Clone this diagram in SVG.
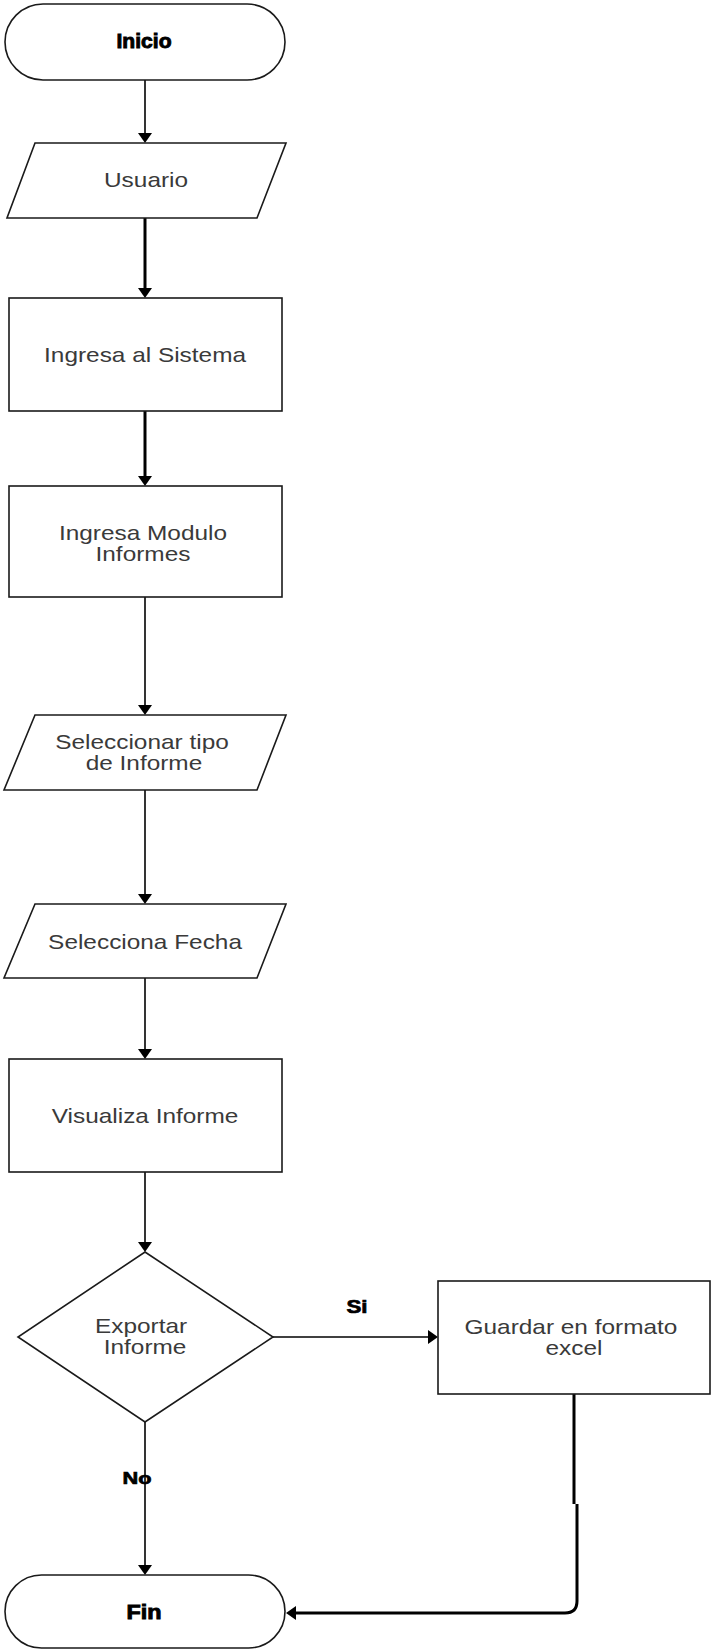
<svg xmlns="http://www.w3.org/2000/svg" width="711" height="1650" viewBox="0 0 711 1650">
  <style>
    .shape { fill: #ffffff; stroke: #1a1a1a; stroke-width: 1.6; }
    .edge { fill: none; stroke: #000000; stroke-width: 1.6; }
    .edge.heavy { stroke-width: 3; }
    .label { font-family: "Liberation Sans", Arial, sans-serif; font-size: 20px; fill: #3a3a3a; text-anchor: middle; }
    .title { font-family: "Liberation Sans", Arial, sans-serif; font-size: 20px; font-weight: bold; fill: #000; stroke: #000; stroke-width: 0.9; text-anchor: middle; }
    .tag { font-family: "Liberation Sans", Arial, sans-serif; font-weight: bold; fill: #000; stroke: #000; stroke-width: 0.7; text-anchor: middle; }
  </style>
  <defs>
    <marker id="arrow" markerUnits="userSpaceOnUse" markerWidth="11" markerHeight="14" refX="0" refY="7" orient="auto">
      <path d="M0,0 L10,7 L0,14 Z" fill="#000"/>
    </marker>
  </defs>

  <rect width="711" height="1650" fill="#ffffff"/>

  <!-- connectors -->
  <g id="connectors">
    <line class="edge" x1="145" y1="80" x2="145" y2="133" marker-end="url(#arrow)"/>
    <line class="edge heavy" x1="145" y1="218" x2="145" y2="288" marker-end="url(#arrow)"/>
    <line class="edge heavy" x1="145" y1="411" x2="145" y2="476" marker-end="url(#arrow)"/>
    <line class="edge" x1="145" y1="597" x2="145" y2="705" marker-end="url(#arrow)"/>
    <line class="edge" x1="145" y1="790" x2="145" y2="894" marker-end="url(#arrow)"/>
    <line class="edge" x1="145" y1="978" x2="145" y2="1049" marker-end="url(#arrow)"/>
    <line class="edge" x1="145" y1="1172" x2="145" y2="1242" marker-end="url(#arrow)"/>
    <line class="edge" x1="273" y1="1337" x2="428" y2="1337" marker-end="url(#arrow)"/>
    <line class="edge" x1="145" y1="1422" x2="145" y2="1565" marker-end="url(#arrow)"/>
    <path class="edge heavy" d="M574,1394 V1504 M577,1504 V1601 Q577,1613 565,1613 H296" marker-end="url(#arrow)"/>
    <text class="tag" x="357" y="1313" font-size="18" textLength="21" lengthAdjust="spacingAndGlyphs">Si</text>
    <text class="tag" x="137" y="1484" font-size="17" textLength="29" lengthAdjust="spacingAndGlyphs">No</text>
  </g>

  <!-- start -->
  <g id="inicio">
    <rect class="shape" x="5" y="4" width="280" height="76" rx="38" ry="38"/>
    <text class="title" x="144" y="48" textLength="55" lengthAdjust="spacingAndGlyphs">Inicio</text>
  </g>

  <g id="usuario">
    <polygon class="shape" points="35,143 286,143 257,218 7,218"/>
    <text class="label" transform="scale(1.22 1)" x="119.7" y="187">Usuario</text>
  </g>

  <g id="ingresa-sistema">
    <rect class="shape" x="9" y="298" width="273" height="113"/>
    <text class="label" transform="scale(1.22 1)" x="118.9" y="362">Ingresa al Sistema</text>
  </g>

  <g id="ingresa-modulo">
    <rect class="shape" x="9" y="486" width="273" height="111"/>
    <text class="label" transform="scale(1.22 1)" x="117.2" y="540">Ingresa Modulo</text>
    <text class="label" transform="scale(1.22 1)" x="117.2" y="561">Informes</text>
  </g>

  <g id="tipo-informe">
    <polygon class="shape" points="35,715 286,715 257,790 4,790"/>
    <text class="label" transform="scale(1.22 1)" x="116.4" y="749">Seleccionar tipo</text>
    <text class="label" transform="scale(1.22 1)" x="118.0" y="770">de Informe</text>
  </g>

  <g id="fecha">
    <polygon class="shape" points="35,904 286,904 257,978 4,978"/>
    <text class="label" transform="scale(1.22 1)" x="118.9" y="949">Selecciona Fecha</text>
  </g>

  <g id="visualiza">
    <rect class="shape" x="9" y="1059" width="273" height="113"/>
    <text class="label" transform="scale(1.22 1)" x="118.9" y="1123">Visualiza Informe</text>
  </g>

  <g id="exportar">
    <polygon class="shape" points="145,1252 273,1337 145,1422 18,1337"/>
    <text class="label" transform="scale(1.22 1)" x="115.6" y="1333">Exportar</text>
    <text class="label" transform="scale(1.22 1)" x="118.9" y="1354">Informe</text>
  </g>

  <g id="guardar">
    <rect class="shape" x="438" y="1281" width="272" height="113"/>
    <text class="label" transform="scale(1.22 1)" x="468.0" y="1334">Guardar en formato</text>
    <text class="label" transform="scale(1.22 1)" x="470.5" y="1355">excel</text>
  </g>

  <!-- end -->
  <g id="fin">
    <rect class="shape" x="5" y="1575" width="280" height="73" rx="36.5" ry="36.5"/>
    <text class="title" x="144" y="1619" textLength="35" lengthAdjust="spacingAndGlyphs">Fin</text>
  </g>
</svg>
